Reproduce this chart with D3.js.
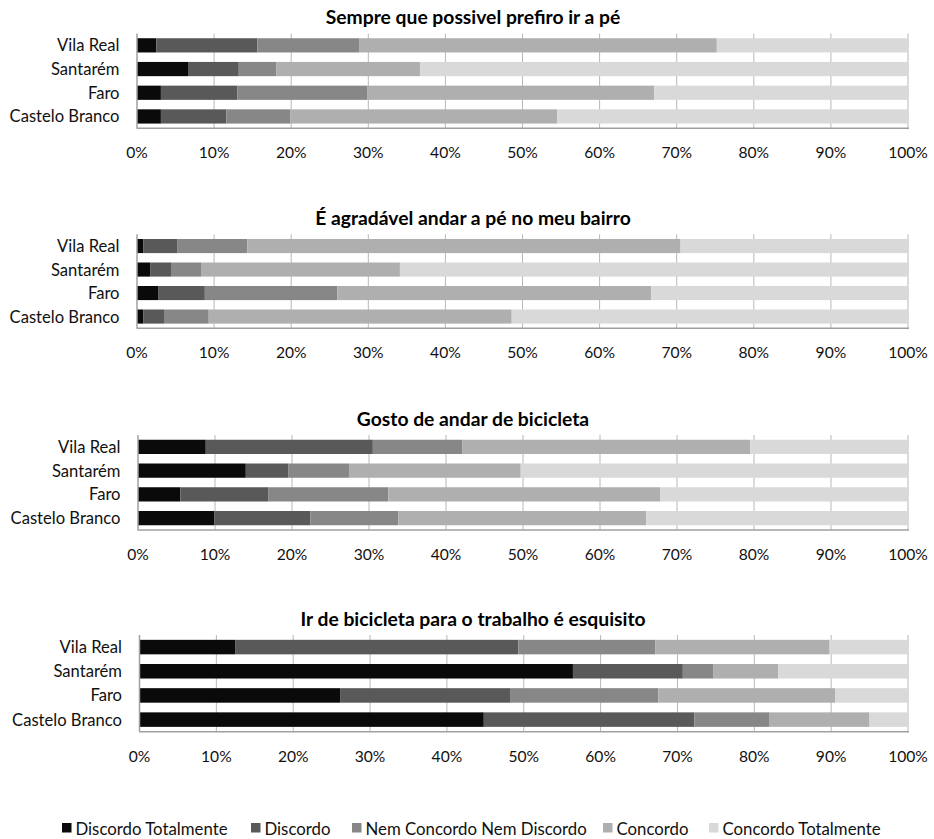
<!DOCTYPE html>
<html><head><meta charset="utf-8">
<script src="https://cdn.jsdelivr.net/npm/d3@7"></script>
<style>body{margin:0;background:#fff}svg{display:block}</style>
</head><body>
<script>
const categories = ["Vila Real","Santarém","Faro","Castelo Branco"];
const seriesNames = ["Discordo Totalmente","Discordo","Nem Concordo Nem Discordo","Concordo","Concordo Totalmente"];
const seriesColors = ["#0a0a0a","#595959","#878787","#afafaf","#d9d9d9"];
const tickValues = [0,0.1,0.2,0.3,0.4,0.5,0.6,0.7,0.8,0.9,1.0];
const titles = [
  "Sempre que possivel prefiro ir a pé",
  "É agradável andar a pé no meu bairro",
  "Gosto de andar de bicicleta",
  "Ir de bicicleta para o trabalho é esquisito"
];
// values (%) per category: [Discordo Totalmente, Discordo, Nem..., Concordo, Concordo Totalmente]
const panel1 = [[2.5,13.1,13.2,46.4,24.8],[6.7,6.5,4.9,18.6,63.3],[3.1,9.9,16.9,37.2,32.9],[3.1,8.5,8.3,34.6,45.5]];
const panel2 = [[0.8,4.4,9.1,56.2,29.5],[1.7,2.8,3.8,25.8,65.9],[2.8,6.0,17.2,40.7,33.3],[0.8,2.7,5.8,39.3,51.4]];
const panel3 = [[8.8,21.7,11.6,37.4,20.5],[14.0,5.5,7.9,22.3,50.3],[5.5,11.4,15.6,35.3,32.2],[9.9,12.5,11.4,32.2,34.0]];
const panel4 = [[12.5,36.8,17.8,22.7,10.2],[56.4,14.3,4.0,8.4,16.9],[26.1,22.2,19.2,23.0,9.5],[44.8,27.4,9.8,13.0,5.0]];
const panels = [panel1,panel2,panel3,panel4];

const W=934,H=839;
const FONT="Lato, 'Noto Sans', sans-serif";
const svg=d3.select("body").append("svg").attr("width",W).attr("height",H)
  .style("font-family",FONT);

const layout=[
  {title:16.5, top:33.5, bottom:128.3, x0:137, x1:908},
  {title:217, top:234.3, bottom:328.3, x0:137, x1:908},
  {title:418.5, top:435, bottom:530, x0:138, x1:908},
  {title:618.5, top:635, bottom:731.7, x0:139.5, x1:908}
];

panels.forEach((data,pi)=>{
  const L=layout[pi];
  const g=svg.append("g");
  const x=d3.scaleLinear().domain([0,1]).range([L.x0,L.x1]);
  const y=d3.scaleBand().domain(categories).range([L.top,L.bottom]).paddingInner(0.4).paddingOuter(0.2);
  g.append("text").attr("x",473).attr("y",L.title).attr("text-anchor","middle")
    .attr("dominant-baseline","central").style("font-weight","bold").style("font-size","19.3px")
    .attr("fill","#000").text(titles[pi]);
  g.selectAll("line.grid").data(tickValues.slice(1)).join("line")
    .attr("x1",d=>x(d)).attr("x2",d=>x(d)).attr("y1",L.top).attr("y2",L.bottom)
    .attr("stroke","#b8b8b8").attr("stroke-width",1);
  const rows=categories.map((c,i)=>{const o={cat:c};seriesNames.forEach((s,j)=>o[s]=data[i][j]/100);return o;});
  const stack=d3.stack().keys(seriesNames)(rows);
  stack.forEach((layer,j)=>{
    g.selectAll(null).data(layer).join("rect")
      .attr("x",d=>x(d[0])).attr("width",d=>Math.max(0,x(d[1])-x(d[0])))
      .attr("y",d=>y(d.data.cat)).attr("height",y.bandwidth())
      .attr("fill",seriesColors[j]);
  });
  g.append("line").attr("x1",L.x0).attr("x2",L.x0).attr("y1",L.top).attr("y2",L.bottom+0.5).attr("stroke","#a0a0a0").attr("stroke-width",1.5);
  g.append("line").attr("x1",L.x0).attr("x2",L.x1+1).attr("y1",L.bottom).attr("y2",L.bottom).attr("stroke","#a0a0a0").attr("stroke-width",1.5);
  g.selectAll("text.cat").data(categories).join("text")
    .attr("x",L.x0-17.5).attr("y",d=>y(d)+y.bandwidth()/2).attr("text-anchor","end")
    .attr("dominant-baseline","central").style("font-size","16.6px").attr("fill","#111").text(d=>d);
  const fmt=d3.format(".0%");
  g.selectAll("text.tick").data(tickValues).join("text")
    .attr("x",d=>x(d)).attr("y",L.bottom+24).attr("text-anchor","middle")
    .attr("dominant-baseline","central").style("font-size","15.6px").attr("fill","#111").text(d=>fmt(d));
});

const legX=[62,251,352,603,709];
const lg=svg.append("g");
seriesNames.forEach((s,i)=>{
  lg.append("rect").attr("x",legX[i]).attr("y",823).attr("width",9.5).attr("height",9.5).attr("fill",seriesColors[i]);
  lg.append("text").attr("x",legX[i]+13.5).attr("y",828).attr("dominant-baseline","central")
    .style("font-size","16.8px").attr("fill","#111").text(s);
});
</script>
</body></html>
